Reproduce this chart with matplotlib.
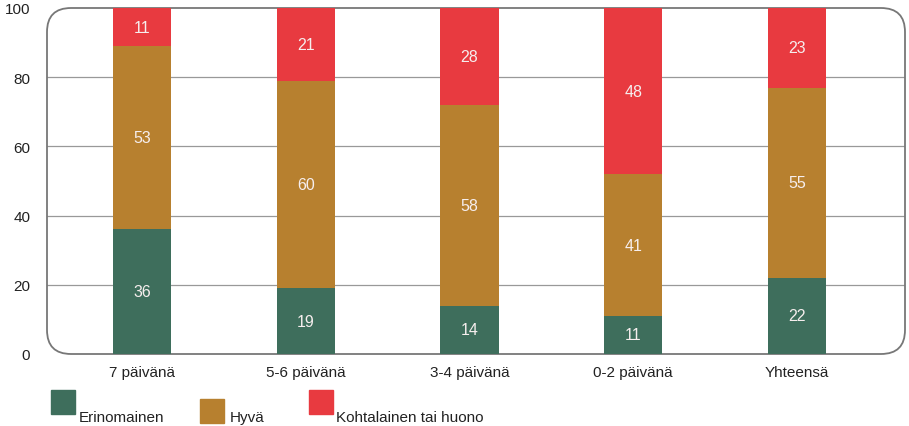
import matplotlib
matplotlib.use("Agg")
import matplotlib.pyplot as plt
from matplotlib.patches import FancyBboxPatch, Rectangle

categories = ["7 päivänä", "5-6 päivänä", "3-4 päivänä", "0-2 päivänä", "Yhteensä"]
erinomainen = [36, 19, 14, 11, 22]
hyva = [53, 60, 58, 41, 55]
kohtalainen = [11, 21, 28, 48, 23]
series_names = ["Erinomainen", "Hyvä", "Kohtalainen tai huono"]
colors = ["#3e6e5c", "#b7802f", "#e83a40"]
yticks = [0, 20, 40, 60, 80, 100]

plt.rcParams['font.family'] = ['Liberation Sans', 'DejaVu Sans']

fig = plt.figure(figsize=(9.09, 4.27), dpi=100)
ax = fig.add_axes([47/909, 72/427, 858/909, 346/427])

x = list(range(len(categories)))
bottom = [0]*len(categories)
for vals, col in zip([erinomainen, hyva, kohtalainen], colors):
    ax.bar(x, vals, width=0.355, bottom=bottom, color=col, zorder=3)
    for xi, b, v in zip(x, bottom, vals):
        ax.text(xi, b + v/2, str(v), ha='center', va='center', color='#f6eeee',
                fontsize=11.5, zorder=4)
    bottom = [b + v for b, v in zip(bottom, vals)]

ax.set_xlim(-0.58, 4.66)
ax.set_ylim(0, 100)
ax.set_yticks(yticks)
ax.set_yticklabels([str(t) for t in yticks], fontsize=11, color='#222222')
ax.set_xticks(x)
ax.set_xticklabels(categories, fontsize=11, color='#222222')
ax.tick_params(length=0)
ax.tick_params(axis='y', pad=12)
ax.tick_params(axis='x', pad=8)
for s in ax.spines.values():
    s.set_visible(False)
for t in yticks[1:-1]:
    ax.axhline(t, color='#999999', lw=0.9, zorder=1)

frame = FancyBboxPatch((0, 0), 1, 1, boxstyle="round,pad=0,rounding_size=0.028",
                       transform=ax.transAxes, fill=False, edgecolor='#777777',
                       lw=1.3, zorder=2, clip_on=False, mutation_aspect=858/346)
ax.add_patch(frame)

# legend
leg_items = [(51, 391, 79), (200, 400, 230), (309, 391, 336)]
for (lx, ly, tx), name, col in zip(leg_items, series_names, colors):
    fig.add_artist(Rectangle((lx/909, 1 - (ly+24)/427), 24/909, 24/427,
                             transform=fig.transFigure, color=col))
    fig.text(tx/909, 1 - 418/427, name, fontsize=11, color='#222222',
             ha='left', va='center')

fig.savefig("out.png", dpi=100)
